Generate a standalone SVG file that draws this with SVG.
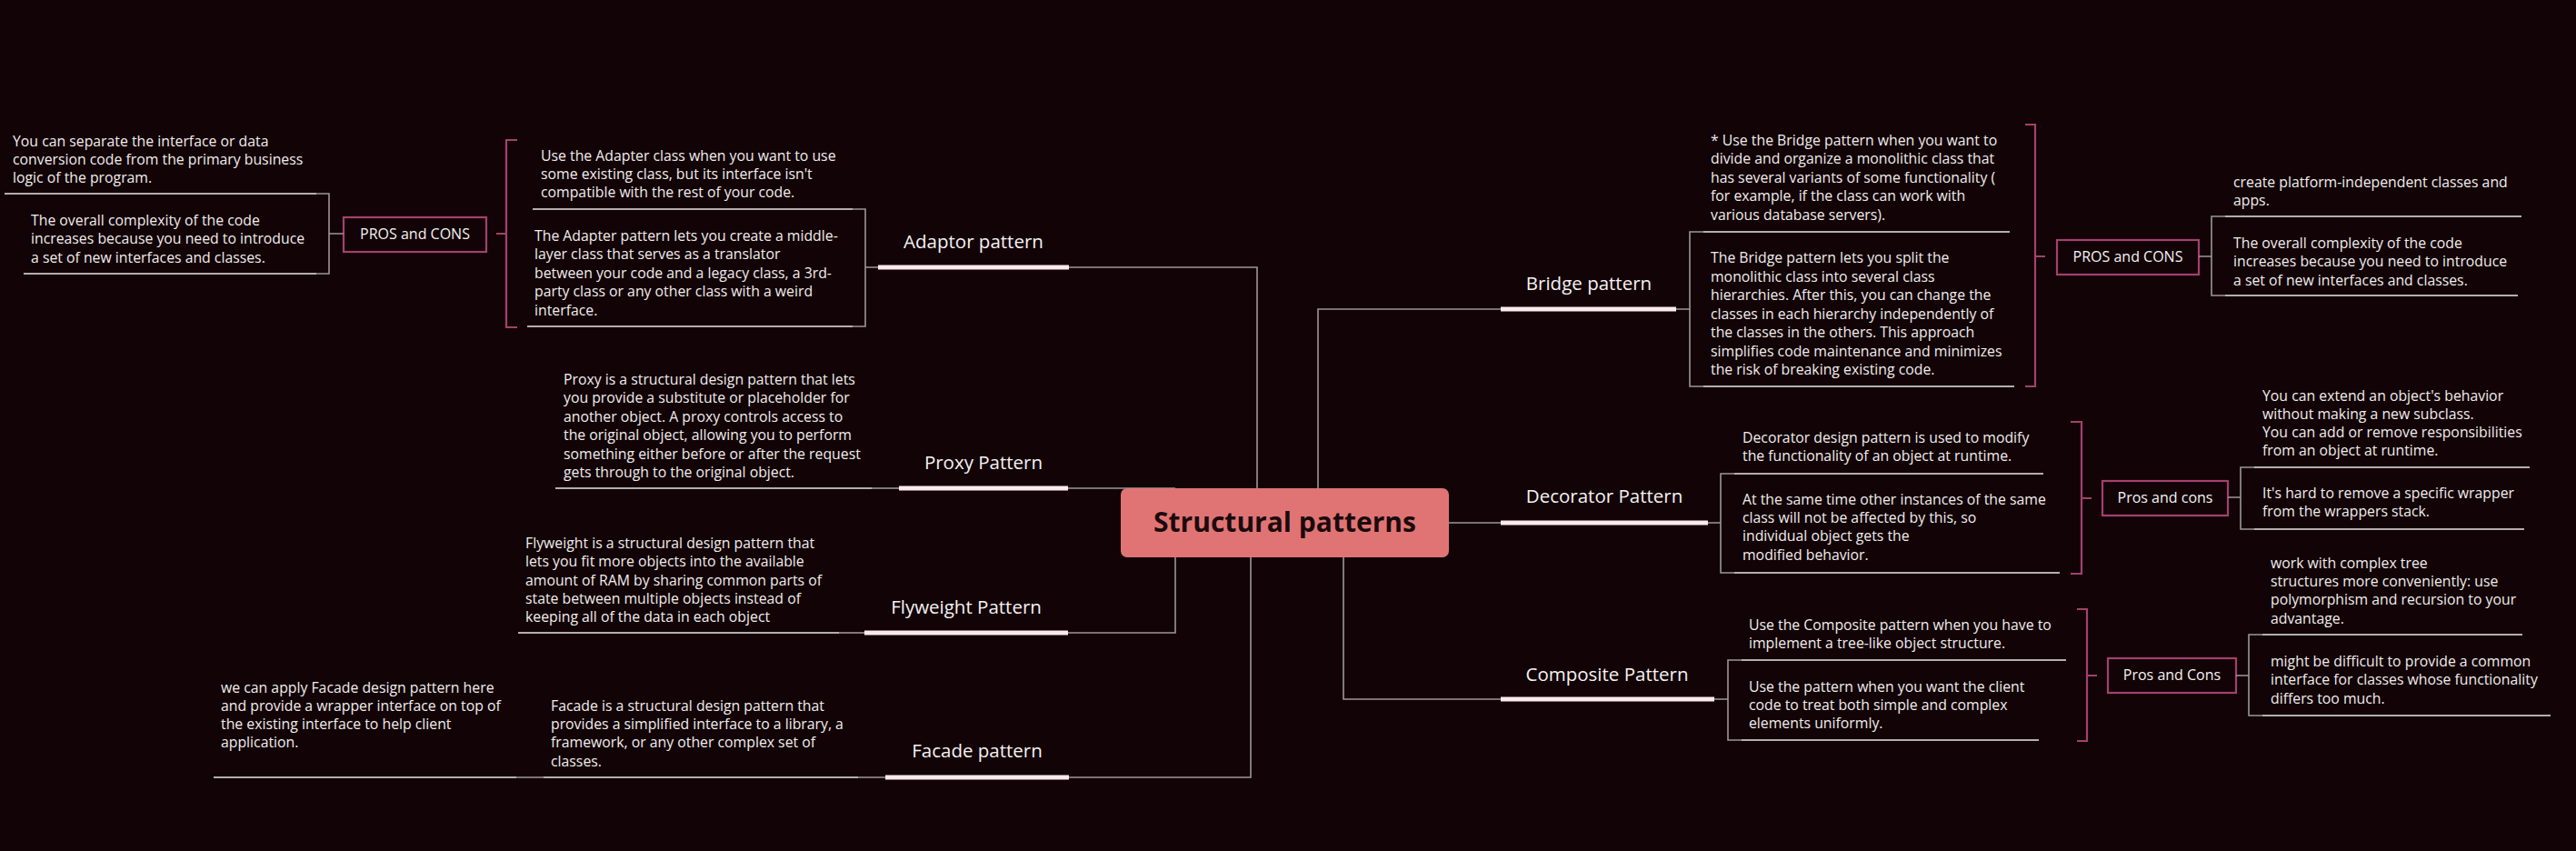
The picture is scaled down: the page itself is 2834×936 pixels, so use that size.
<svg xmlns="http://www.w3.org/2000/svg" width="2834" height="936" viewBox="0 0 2834 936">
<style>
.bg{fill:#110306}
.t{font-family:"Open Sans","Liberation Sans",sans-serif;font-size:15.8px;fill:#f1ecec}
.h{font-family:"Open Sans","Liberation Sans",sans-serif;font-size:20.5px;fill:#f6f1f1;text-anchor:middle}
.pc{font-family:"Open Sans","Liberation Sans",sans-serif;font-size:16px;fill:#f6f1f1;text-anchor:middle}
.g{fill:none;stroke:#9d9799;stroke-width:1.6}
.w{fill:none;stroke:#ece6e7;stroke-width:1.6}
.u{fill:none;stroke:#fbeaec;stroke-width:5}
.p{fill:none;stroke:#a3416d;stroke-width:2.2}
</style>
<rect class="bg" x="0" y="0" width="2834" height="936"/>
<g id="connectors">
<path class="g" d="M1176,294 H1383 V537"/>
<path class="g" d="M1175,537 H1293"/>
<path class="g" d="M1175,696 H1293 V613"/>
<path class="g" d="M1176,855 H1376 V613"/>
<path class="g" d="M1450,537 V340 H1651"/>
<path class="g" d="M1594,575 H1651"/>
<path class="g" d="M1478,613 V769 H1651"/>
</g>
<g id="center">
<rect x="1233" y="537" width="361" height="76" rx="7" fill="#e07474"/>
<text x="1413.5" y="585" font-family="Open Sans, Liberation Sans, sans-serif" font-size="30" font-weight="700" fill="#1b0a0c" text-anchor="middle">Structural patterns</text>
</g>
<g id="adaptor">
<text class="h" x="1071" y="273">Adaptor pattern</text>
<path class="u" d="M966,294 H1176"/>
<path class="g" d="M938,230 H952 V359 H938 M952,294 H966"/>
<path class="w" d="M586,230 H938 M580,359 H938"/>
<text class="t" x="595" y="177">Use the Adapter class when you want to use</text>
<text class="t" x="595" y="197">some existing class, but its interface isn't</text>
<text class="t" x="595" y="217">compatible with the rest of your code.</text>
<text class="t" x="588" y="265">The Adapter pattern lets you create a middle-</text>
<text class="t" x="588" y="285">layer class that serves as a translator</text>
<text class="t" x="588" y="306">between your code and a legacy class, a 3rd-</text>
<text class="t" x="588" y="326">party class or any other class with a weird</text>
<text class="t" x="588" y="347">interface.</text>
</g>
<g id="adaptor-pros">
<path class="p" d="M569,154 H557 V360 H569 M546,257 H557"/>
<rect class="p" x="378" y="239" width="157" height="38"/>
<text class="pc" x="456.5" y="263">PROS and CONS</text>
<path class="g" d="M348,213 H362 V301 H348 M362,257 H378"/>
<path class="w" d="M5,213 H348 M26,301 H348"/>
<text class="t" x="14" y="161">You can separate the interface or data</text>
<text class="t" x="14" y="181">conversion code from the primary business</text>
<text class="t" x="14" y="201">logic of the program.</text>
<text class="t" x="34" y="248">The overall complexity of the code</text>
<text class="t" x="34" y="268">increases because you need to introduce</text>
<text class="t" x="34" y="289">a set of new interfaces and classes.</text>
</g>
<g id="proxy">
<text class="h" x="1082" y="516">Proxy Pattern</text>
<path class="u" d="M989,537 H1175"/>
<path class="g" d="M959,537 H989"/>
<path class="w" d="M611,537 H959"/>
<text class="t" x="620" y="423">Proxy is a structural design pattern that lets</text>
<text class="t" x="620" y="443">you provide a substitute or placeholder for</text>
<text class="t" x="620" y="464">another object. A proxy controls access to</text>
<text class="t" x="620" y="484">the original object, allowing you to perform</text>
<text class="t" x="620" y="505">something either before or after the request</text>
<text class="t" x="620" y="525">gets through to the original object.</text>
</g>
<g id="flyweight">
<text class="h" x="1063" y="675">Flyweight Pattern</text>
<path class="u" d="M951,696 H1175"/>
<path class="g" d="M923,696 H951"/>
<path class="w" d="M570,696 H923"/>
<text class="t" x="578" y="603">Flyweight is a structural design pattern that</text>
<text class="t" x="578" y="623">lets you fit more objects into the available</text>
<text class="t" x="578" y="644">amount of RAM by sharing common parts of</text>
<text class="t" x="578" y="664">state between multiple objects instead of</text>
<text class="t" x="578" y="684">keeping all of the data in each object</text>
</g>
<g id="facade">
<text class="h" x="1075" y="833">Facade pattern</text>
<path class="u" d="M974,855 H1176"/>
<path class="g" d="M944,855 H974 M568,855 H598"/>
<path class="w" d="M598,855 H944 M235,855 H568"/>
<text class="t" x="606" y="782">Facade is a structural design pattern that</text>
<text class="t" x="606" y="802">provides a simplified interface to a library, a</text>
<text class="t" x="606" y="822">framework, or any other complex set of</text>
<text class="t" x="606" y="843">classes.</text>
<text class="t" x="243" y="762">we can apply Facade design pattern here</text>
<text class="t" x="243" y="782">and provide a wrapper interface on top of</text>
<text class="t" x="243" y="802">the existing interface to help client</text>
<text class="t" x="243" y="822">application.</text>
</g>
<g id="bridge">
<text class="h" x="1748" y="319">Bridge pattern</text>
<path class="u" d="M1651,340 H1844"/>
<path class="g" d="M1844,340 H1859 M1874,255 H1859 V425 H1874"/>
<path class="w" d="M1874,255 H2211 M1874,425 H2216"/>
<text class="t" x="1882" y="160">* Use the Bridge pattern when you want to</text>
<text class="t" x="1882" y="180">divide and organize a monolithic class that</text>
<text class="t" x="1882" y="201">has several variants of some functionality (</text>
<text class="t" x="1882" y="221">for example, if the class can work with</text>
<text class="t" x="1882" y="242">various database servers).</text>
<text class="t" x="1882" y="289">The Bridge pattern lets you split the</text>
<text class="t" x="1882" y="310">monolithic class into several class</text>
<text class="t" x="1882" y="330">hierarchies. After this, you can change the</text>
<text class="t" x="1882" y="351">classes in each hierarchy independently of</text>
<text class="t" x="1882" y="371">the classes in the others. This approach</text>
<text class="t" x="1882" y="392">simplifies code maintenance and minimizes</text>
<text class="t" x="1882" y="412">the risk of breaking existing code.</text>
</g>
<g id="bridge-pros">
<path class="p" d="M2228,137 H2239 V425 H2228 M2239,282 H2250"/>
<rect class="p" x="2263" y="264" width="156" height="38"/>
<text class="pc" x="2341" y="288">PROS and CONS</text>
<path class="g" d="M2419,282 H2433 M2448,238 H2433 V325 H2448"/>
<path class="w" d="M2448,238 H2774 M2448,325 H2770"/>
<text class="t" x="2457" y="206">create platform-independent classes and</text>
<text class="t" x="2457" y="226">apps.</text>
<text class="t" x="2457" y="273">The overall complexity of the code</text>
<text class="t" x="2457" y="293">increases because you need to introduce</text>
<text class="t" x="2457" y="314">a set of new interfaces and classes.</text>
</g>
<g id="decorator">
<text class="h" x="1765" y="553">Decorator Pattern</text>
<path class="u" d="M1651,575 H1879"/>
<path class="g" d="M1879,575 H1893 M1908,521 H1893 V630 H1908"/>
<path class="w" d="M1908,521 H2248 M1908,630 H2266"/>
<text class="t" x="1917" y="487">Decorator design pattern is used to modify</text>
<text class="t" x="1917" y="507">the functionality of an object at runtime.</text>
<text class="t" x="1917" y="555">At the same time other instances of the same</text>
<text class="t" x="1917" y="575">class will not be affected by this, so</text>
<text class="t" x="1917" y="595">individual object gets the</text>
<text class="t" x="1917" y="616">modified behavior.</text>
</g>
<g id="decorator-pros">
<path class="p" d="M2278,464 H2290 V631 H2278 M2290,548 H2301"/>
<rect class="p" x="2313" y="529" width="138" height="38"/>
<text class="pc" x="2382" y="553">Pros and cons</text>
<path class="g" d="M2451,547 H2465 M2480,514 H2465 V582 H2480"/>
<path class="w" d="M2480,514 H2783 M2480,582 H2777"/>
<text class="t" x="2489" y="441">You can extend an object's behavior</text>
<text class="t" x="2489" y="461">without making a new subclass.</text>
<text class="t" x="2489" y="481">You can add or remove responsibilities</text>
<text class="t" x="2489" y="501">from an object at runtime.</text>
<text class="t" x="2489" y="548">It's hard to remove a specific wrapper</text>
<text class="t" x="2489" y="568">from the wrappers stack.</text>
</g>
<g id="composite">
<text class="h" x="1768" y="749">Composite Pattern</text>
<path class="u" d="M1651,769 H1886"/>
<path class="g" d="M1886,769 H1901 M1916,726 H1901 V814 H1916"/>
<path class="w" d="M1916,726 H2273 M1916,814 H2243"/>
<text class="t" x="1924" y="693">Use the Composite pattern when you have to</text>
<text class="t" x="1924" y="713">implement a tree-like object structure.</text>
<text class="t" x="1924" y="761">Use the pattern when you want the client</text>
<text class="t" x="1924" y="781">code to treat both simple and complex</text>
<text class="t" x="1924" y="801">elements uniformly.</text>
</g>
<g id="composite-pros">
<path class="p" d="M2285,670 H2296 V815 H2285 M2296,743 H2307"/>
<rect class="p" x="2319" y="724" width="141" height="38"/>
<text class="pc" x="2389.5" y="748">Pros and Cons</text>
<path class="g" d="M2460,743 H2474 M2489,698 H2474 V787 H2489"/>
<path class="w" d="M2489,698 H2775 M2489,787 H2806"/>
<text class="t" x="2498" y="625">work with complex tree</text>
<text class="t" x="2498" y="645">structures more conveniently: use</text>
<text class="t" x="2498" y="665">polymorphism and recursion to your</text>
<text class="t" x="2498" y="686">advantage.</text>
<text class="t" x="2498" y="733">might be difficult to provide a common</text>
<text class="t" x="2498" y="753">interface for classes whose functionality</text>
<text class="t" x="2498" y="774">differs too much.</text>
</g>
</svg>
